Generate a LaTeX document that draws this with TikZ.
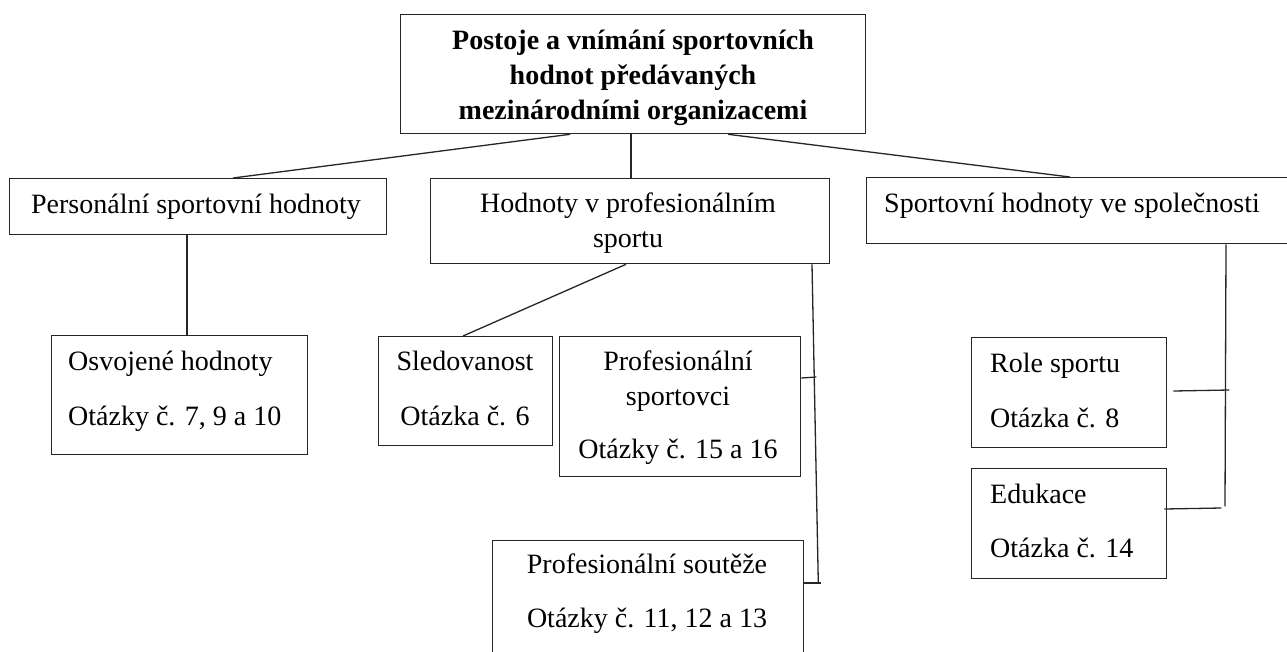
\documentclass[tikz,border=0pt]{standalone}
\usepackage{fontspec}
\setmainfont{Liberation Serif}
\usetikzlibrary{calc}
\tikzset{
  box/.style={draw=black!85, line width=1.3pt, rectangle, inner sep=0pt, anchor=north west},
  conn/.style={draw=black!85, line width=1.3pt},
  txt/.style={inner sep=0pt, font=\fontsize{28}{34}\selectfont},
  btxt/.style={inner sep=0pt, font=\fontsize{28}{34}\selectfont\bfseries}
}
\begin{document}
\begin{tikzpicture}[x=1pt,y=-1pt]
\useasboundingbox[fill=white] (0,0) rectangle (1287,651);
% boxes
\node[box, minimum width=465pt, minimum height=119pt] (top) at (400,14) {};
\node[box, minimum width=377pt, minimum height=56pt] (pers) at (9,178) {};
\node[box, minimum width=399pt, minimum height=85pt] (hod) at (430,178) {};
\node[box, minimum width=426pt, minimum height=66pt] (spol) at (866,177) {};
\node[box, minimum width=256pt, minimum height=119pt] (osv) at (51,335) {};
\node[box, minimum width=174pt, minimum height=109pt] (sled) at (378,336) {};
\node[box, minimum width=241pt, minimum height=140pt] (prsp) at (559,336) {};
\node[box, minimum width=311pt, minimum height=125pt] (prso) at (492,540) {};
\node[box, minimum width=195pt, minimum height=110pt] (role) at (971,337) {};
\node[box, minimum width=195pt, minimum height=110pt] (edu) at (971,468) {};
% texts
\node[btxt, anchor=base] (t1) at (633,49) {Postoje a vnímání sportovních};
\node[btxt, anchor=base] (t2) at (633,84) {hodnot předávaných};
\node[btxt, anchor=base] (t3) at (633,119) {mezinárodními organizacemi};
\node[txt, anchor=base] (pers1) at (196,213) {Personální sportovní hodnoty};
\node[txt, anchor=base] (hod1) at (628,212) {Hodnoty v profesionálním};
\node[txt, anchor=base] (hod2) at (628,247) {sportu};
\node[txt, anchor=base] (spol1) at (1072,212) {Sportovní hodnoty ve společnosti};
\node[txt, anchor=base west] (osv1) at (68,370) {Osvojené hodnoty};
\node[txt, anchor=base west] (osv2) at (68,425) {Otázky č. 7, 9 a 10};
\node[txt, anchor=base] (sled1) at (465,370) {Sledovanost};
\node[txt, anchor=base] (sled2) at (465,425) {Otázka č. 6};
\node[txt, anchor=base] (prsp1) at (678,370) {Profesionální};
\node[txt, anchor=base] (prsp2) at (678,405) {sportovci};
\node[txt, anchor=base] (prsp3) at (678,458) {Otázky č. 15 a 16};
\node[txt, anchor=base] (prso1) at (647,573) {Profesionální soutěže};
\node[txt, anchor=base] (prso2) at (647,627) {Otázky č. 11, 12 a 13};
\node[txt, anchor=base west] (role1) at (990,372) {Role sportu};
\node[txt, anchor=base west] (role2) at (990,427) {Otázka č. 8};
\node[txt, anchor=base west] (edu1) at (990,503) {Edukace};
\node[txt, anchor=base west] (edu2) at (990,557) {Otázka č. 14};
% connectors
\draw[conn] ($(top.south west)+(170,0)$) -- ($(pers.north west)+(224,0)$);
\draw[conn] ($(top.south west)+(231,0)$) -- ($(hod.north west)+(201,0)$);
\draw[conn] ($(top.south west)+(328,0)$) -- ($(spol.north west)+(204,0)$);
\draw[conn] ($(pers.south west)+(178,0)$) -- ($(osv.north west)+(136,0)$);
\draw[conn] ($(hod.south west)+(196,0)$) -- ($(sled.north west)+(85,0)$);
\coordinate (pend) at ($(prso.north east)+(14,43)$);
\draw[conn] ($(hod.south west)+(382,0)$) -- (pend);
\draw[conn] ($(prsp.north east)+(0,42)$) -- ++(15,-1);
\draw[conn] ($(prso.north east)+(0,43)$) -- ++(17,0);
\coordinate (send) at ($(spol.south west)+(359,262)$);
\draw[conn] ($(spol.south west)+(360,0)$) -- (send);
\draw[conn] ($(role.north east)+(6,54)$) -- ++(56,-1);
\draw[conn] ($(edu.north east)+(-3,41)$) -- ++(57,-1);
\end{tikzpicture}
\end{document}
